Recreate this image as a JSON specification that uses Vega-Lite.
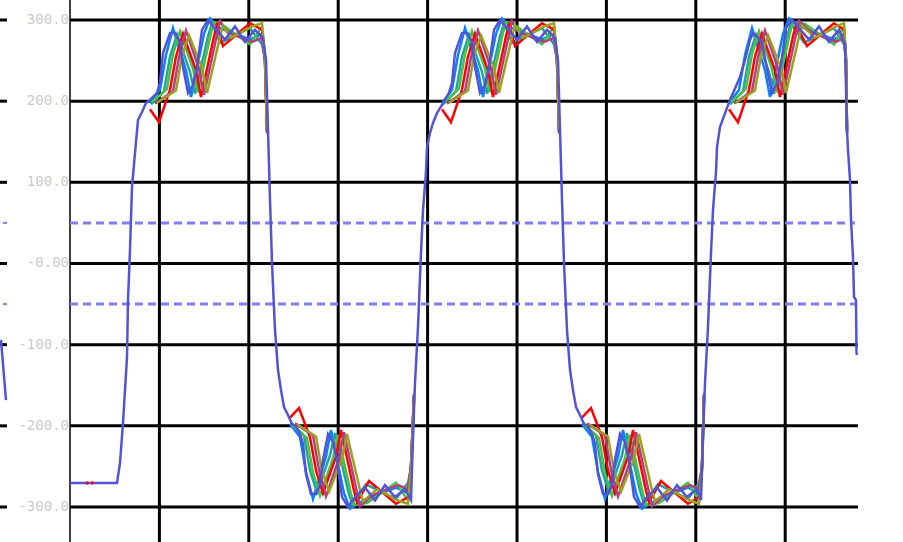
{
  "$schema": "https://vega.github.io/schema/vega-lite/v6.json",
  "width": 903,
  "height": 542,
  "padding": 0,
  "autosize": {"type": "none"},
  "background": "white",
  "config": {"view": {"stroke": null}, "axis": {"disable": true}},
  "datasets": {
    "levels": [
      {"v": 300, "lab": "300.0"},
      {"v": 200, "lab": "200.0"},
      {"v": 100, "lab": "100.0"},
      {"v": 0, "lab": "-0.00"},
      {"v": -100, "lab": "-100.0"},
      {"v": -200, "lab": "-200.0"},
      {"v": -300, "lab": "-300.0"}
    ],
    "divs": [
      {"t": 89.4}, {"t": 178.8}, {"t": 268.2}, {"t": 357.6},
      {"t": 447}, {"t": 536.4}, {"t": 625.8}, {"t": 715.2}
    ],
    "trig": [{"v": 50}, {"v": -50}],
    "traces": [
      {"s":"blue","g":"b1","t":80,"v":197.7},{"s":"blue","g":"b1","t":90,"v":213.8},{"s":"blue","g":"b1","t":96,"v":256.9},{"s":"blue","g":"b1","t":103,"v":290},{"s":"blue","g":"b1","t":116,"v":238},{"s":"blue","g":"b1","t":121,"v":205},{"s":"blue","g":"b1","t":134,"v":283},{"s":"blue","g":"b1","t":140,"v":302},{"s":"blue","g":"b1","t":150,"v":290},{"s":"blue","g":"b1","t":180,"v":276},{"s":"blue","g":"b1","t":192,"v":283},{"s":"blue","g":"b1","t":195,"v":250},{"s":"blue","g":"b1","t":197,"v":165},
      {"s":"blue","g":"b2","t":220,"v":-197.7},{"s":"blue","g":"b2","t":230,"v":-213.8},{"s":"blue","g":"b2","t":236,"v":-256.9},{"s":"blue","g":"b2","t":243,"v":-290},{"s":"blue","g":"b2","t":256,"v":-238},{"s":"blue","g":"b2","t":261,"v":-205},{"s":"blue","g":"b2","t":274,"v":-283},{"s":"blue","g":"b2","t":280,"v":-302},{"s":"blue","g":"b2","t":296,"v":-290},{"s":"blue","g":"b2","t":326,"v":-276},{"s":"blue","g":"b2","t":338,"v":-283},{"s":"blue","g":"b2","t":341,"v":-250},{"s":"blue","g":"b2","t":344,"v":-165},
      {"s":"blue","g":"b3","t":372,"v":197.7},{"s":"blue","g":"b3","t":382,"v":213.8},{"s":"blue","g":"b3","t":388,"v":256.9},{"s":"blue","g":"b3","t":395,"v":290},{"s":"blue","g":"b3","t":408,"v":238},{"s":"blue","g":"b3","t":413,"v":205},{"s":"blue","g":"b3","t":426,"v":283},{"s":"blue","g":"b3","t":432,"v":302},{"s":"blue","g":"b3","t":442,"v":290},{"s":"blue","g":"b3","t":472,"v":276},{"s":"blue","g":"b3","t":484,"v":283},{"s":"blue","g":"b3","t":487,"v":250},{"s":"blue","g":"b3","t":489,"v":165},
      {"s":"blue","g":"b4","t":512,"v":-197.7},{"s":"blue","g":"b4","t":522,"v":-213.8},{"s":"blue","g":"b4","t":528,"v":-256.9},{"s":"blue","g":"b4","t":535,"v":-290},{"s":"blue","g":"b4","t":548,"v":-238},{"s":"blue","g":"b4","t":553,"v":-205},{"s":"blue","g":"b4","t":566,"v":-283},{"s":"blue","g":"b4","t":572,"v":-302},{"s":"blue","g":"b4","t":588,"v":-290},{"s":"blue","g":"b4","t":618,"v":-276},{"s":"blue","g":"b4","t":629,"v":-283},{"s":"blue","g":"b4","t":632,"v":-250},{"s":"blue","g":"b4","t":634,"v":-165},
      {"s":"blue","g":"b5","t":659,"v":197.7},{"s":"blue","g":"b5","t":669,"v":213.8},{"s":"blue","g":"b5","t":675,"v":256.9},{"s":"blue","g":"b5","t":682,"v":290},{"s":"blue","g":"b5","t":695,"v":238},{"s":"blue","g":"b5","t":700,"v":205},{"s":"blue","g":"b5","t":713,"v":283},{"s":"blue","g":"b5","t":719,"v":302},{"s":"blue","g":"b5","t":734,"v":290},{"s":"blue","g":"b5","t":764,"v":276},{"s":"blue","g":"b5","t":774,"v":283},{"s":"blue","g":"b5","t":776,"v":250},{"s":"blue","g":"b5","t":777,"v":165},

      {"s":"teal","g":"t1","t":81,"v":196},{"s":"teal","g":"t1","t":94,"v":212},{"s":"teal","g":"t1","t":100,"v":255},{"s":"teal","g":"t1","t":107,"v":282},{"s":"teal","g":"t1","t":120,"v":236},{"s":"teal","g":"t1","t":125,"v":209},{"s":"teal","g":"t1","t":138,"v":280},{"s":"teal","g":"t1","t":142,"v":296},{"s":"teal","g":"t1","t":150,"v":272},{"s":"teal","g":"t1","t":180,"v":290},{"s":"teal","g":"t1","t":192,"v":270},{"s":"teal","g":"t1","t":195,"v":252},{"s":"teal","g":"t1","t":197,"v":160},
      {"s":"teal","g":"t2","t":221,"v":-196},{"s":"teal","g":"t2","t":234,"v":-212},{"s":"teal","g":"t2","t":240,"v":-255},{"s":"teal","g":"t2","t":247,"v":-282},{"s":"teal","g":"t2","t":260,"v":-236},{"s":"teal","g":"t2","t":265,"v":-209},{"s":"teal","g":"t2","t":278,"v":-280},{"s":"teal","g":"t2","t":282,"v":-296},{"s":"teal","g":"t2","t":296,"v":-272},{"s":"teal","g":"t2","t":326,"v":-290},{"s":"teal","g":"t2","t":338,"v":-270},{"s":"teal","g":"t2","t":341,"v":-252},{"s":"teal","g":"t2","t":344,"v":-160},
      {"s":"teal","g":"t3","t":373,"v":196},{"s":"teal","g":"t3","t":386,"v":212},{"s":"teal","g":"t3","t":392,"v":255},{"s":"teal","g":"t3","t":399,"v":282},{"s":"teal","g":"t3","t":412,"v":236},{"s":"teal","g":"t3","t":417,"v":209},{"s":"teal","g":"t3","t":430,"v":280},{"s":"teal","g":"t3","t":434,"v":296},{"s":"teal","g":"t3","t":442,"v":272},{"s":"teal","g":"t3","t":472,"v":290},{"s":"teal","g":"t3","t":484,"v":270},{"s":"teal","g":"t3","t":487,"v":252},{"s":"teal","g":"t3","t":489,"v":160},
      {"s":"teal","g":"t4","t":513,"v":-196},{"s":"teal","g":"t4","t":526,"v":-212},{"s":"teal","g":"t4","t":532,"v":-255},{"s":"teal","g":"t4","t":539,"v":-282},{"s":"teal","g":"t4","t":552,"v":-236},{"s":"teal","g":"t4","t":557,"v":-209},{"s":"teal","g":"t4","t":570,"v":-280},{"s":"teal","g":"t4","t":574,"v":-296},{"s":"teal","g":"t4","t":588,"v":-272},{"s":"teal","g":"t4","t":618,"v":-290},{"s":"teal","g":"t4","t":629,"v":-270},{"s":"teal","g":"t4","t":632,"v":-252},{"s":"teal","g":"t4","t":634,"v":-160},
      {"s":"teal","g":"t5","t":660,"v":196},{"s":"teal","g":"t5","t":673,"v":212},{"s":"teal","g":"t5","t":679,"v":255},{"s":"teal","g":"t5","t":686,"v":282},{"s":"teal","g":"t5","t":699,"v":236},{"s":"teal","g":"t5","t":704,"v":209},{"s":"teal","g":"t5","t":717,"v":280},{"s":"teal","g":"t5","t":721,"v":296},{"s":"teal","g":"t5","t":734,"v":272},{"s":"teal","g":"t5","t":764,"v":290},{"s":"teal","g":"t5","t":774,"v":270},{"s":"teal","g":"t5","t":776,"v":252},{"s":"teal","g":"t5","t":777,"v":160},

      {"s":"green","g":"g1","t":82,"v":199},{"s":"green","g":"g1","t":97,"v":215},{"s":"green","g":"g1","t":103,"v":258},{"s":"green","g":"g1","t":110,"v":286},{"s":"green","g":"g1","t":123,"v":240},{"s":"green","g":"g1","t":128,"v":211},{"s":"green","g":"g1","t":141,"v":284},{"s":"green","g":"g1","t":144,"v":297},{"s":"green","g":"g1","t":151,"v":295},{"s":"green","g":"g1","t":180,"v":270},{"s":"green","g":"g1","t":192,"v":292},{"s":"green","g":"g1","t":195,"v":255},{"s":"green","g":"g1","t":197,"v":170},
      {"s":"green","g":"g2","t":222,"v":-199},{"s":"green","g":"g2","t":237,"v":-215},{"s":"green","g":"g2","t":243,"v":-258},{"s":"green","g":"g2","t":250,"v":-286},{"s":"green","g":"g2","t":263,"v":-240},{"s":"green","g":"g2","t":268,"v":-211},{"s":"green","g":"g2","t":281,"v":-284},{"s":"green","g":"g2","t":284,"v":-297},{"s":"green","g":"g2","t":297,"v":-295},{"s":"green","g":"g2","t":326,"v":-270},{"s":"green","g":"g2","t":338,"v":-292},{"s":"green","g":"g2","t":341,"v":-255},{"s":"green","g":"g2","t":344,"v":-170},
      {"s":"green","g":"g3","t":374,"v":199},{"s":"green","g":"g3","t":389,"v":215},{"s":"green","g":"g3","t":395,"v":258},{"s":"green","g":"g3","t":402,"v":286},{"s":"green","g":"g3","t":415,"v":240},{"s":"green","g":"g3","t":420,"v":211},{"s":"green","g":"g3","t":433,"v":284},{"s":"green","g":"g3","t":436,"v":297},{"s":"green","g":"g3","t":443,"v":295},{"s":"green","g":"g3","t":472,"v":270},{"s":"green","g":"g3","t":484,"v":292},{"s":"green","g":"g3","t":487,"v":255},{"s":"green","g":"g3","t":489,"v":170},
      {"s":"green","g":"g4","t":514,"v":-199},{"s":"green","g":"g4","t":529,"v":-215},{"s":"green","g":"g4","t":535,"v":-258},{"s":"green","g":"g4","t":542,"v":-286},{"s":"green","g":"g4","t":555,"v":-240},{"s":"green","g":"g4","t":560,"v":-211},{"s":"green","g":"g4","t":573,"v":-284},{"s":"green","g":"g4","t":576,"v":-297},{"s":"green","g":"g4","t":589,"v":-295},{"s":"green","g":"g4","t":618,"v":-270},{"s":"green","g":"g4","t":629,"v":-292},{"s":"green","g":"g4","t":632,"v":-255},{"s":"green","g":"g4","t":634,"v":-170},
      {"s":"green","g":"g5","t":661,"v":199},{"s":"green","g":"g5","t":676,"v":215},{"s":"green","g":"g5","t":682,"v":258},{"s":"green","g":"g5","t":689,"v":286},{"s":"green","g":"g5","t":702,"v":240},{"s":"green","g":"g5","t":707,"v":211},{"s":"green","g":"g5","t":720,"v":284},{"s":"green","g":"g5","t":723,"v":297},{"s":"green","g":"g5","t":735,"v":295},{"s":"green","g":"g5","t":764,"v":270},{"s":"green","g":"g5","t":774,"v":292},{"s":"green","g":"g5","t":776,"v":255},{"s":"green","g":"g5","t":777,"v":170},

      {"s":"red","g":"r1","t":80,"v":190},{"s":"red","g":"r1","t":89,"v":174},{"s":"red","g":"r1","t":100,"v":214},{"s":"red","g":"r1","t":106,"v":255},{"s":"red","g":"r1","t":113,"v":283},{"s":"red","g":"r1","t":126,"v":238},{"s":"red","g":"r1","t":131,"v":205},{"s":"red","g":"r1","t":144,"v":280},{"s":"red","g":"r1","t":147,"v":294},{"s":"red","g":"r1","t":153,"v":268},{"s":"red","g":"r1","t":180,"v":296},{"s":"red","g":"r1","t":192,"v":288},{"s":"red","g":"r1","t":195,"v":248},{"s":"red","g":"r1","t":197,"v":162},
      {"s":"red","g":"r2","t":220,"v":-190},{"s":"red","g":"r2","t":229,"v":-178},{"s":"red","g":"r2","t":240,"v":-214},{"s":"red","g":"r2","t":246,"v":-255},{"s":"red","g":"r2","t":253,"v":-283},{"s":"red","g":"r2","t":266,"v":-238},{"s":"red","g":"r2","t":271,"v":-205},{"s":"red","g":"r2","t":284,"v":-280},{"s":"red","g":"r2","t":287,"v":-294},{"s":"red","g":"r2","t":299,"v":-268},{"s":"red","g":"r2","t":326,"v":-296},{"s":"red","g":"r2","t":338,"v":-288},{"s":"red","g":"r2","t":341,"v":-248},{"s":"red","g":"r2","t":344,"v":-162},
      {"s":"red","g":"r3","t":372,"v":190},{"s":"red","g":"r3","t":381,"v":174},{"s":"red","g":"r3","t":392,"v":214},{"s":"red","g":"r3","t":398,"v":255},{"s":"red","g":"r3","t":405,"v":283},{"s":"red","g":"r3","t":418,"v":238},{"s":"red","g":"r3","t":423,"v":205},{"s":"red","g":"r3","t":436,"v":280},{"s":"red","g":"r3","t":439,"v":294},{"s":"red","g":"r3","t":445,"v":268},{"s":"red","g":"r3","t":472,"v":296},{"s":"red","g":"r3","t":484,"v":288},{"s":"red","g":"r3","t":487,"v":248},{"s":"red","g":"r3","t":489,"v":162},
      {"s":"red","g":"r4","t":512,"v":-190},{"s":"red","g":"r4","t":521,"v":-178},{"s":"red","g":"r4","t":532,"v":-214},{"s":"red","g":"r4","t":538,"v":-255},{"s":"red","g":"r4","t":545,"v":-283},{"s":"red","g":"r4","t":558,"v":-238},{"s":"red","g":"r4","t":563,"v":-205},{"s":"red","g":"r4","t":576,"v":-280},{"s":"red","g":"r4","t":579,"v":-294},{"s":"red","g":"r4","t":591,"v":-268},{"s":"red","g":"r4","t":618,"v":-296},{"s":"red","g":"r4","t":629,"v":-288},{"s":"red","g":"r4","t":632,"v":-248},{"s":"red","g":"r4","t":634,"v":-162},
      {"s":"red","g":"r5","t":659,"v":190},{"s":"red","g":"r5","t":668,"v":174},{"s":"red","g":"r5","t":679,"v":214},{"s":"red","g":"r5","t":685,"v":255},{"s":"red","g":"r5","t":692,"v":283},{"s":"red","g":"r5","t":705,"v":238},{"s":"red","g":"r5","t":710,"v":205},{"s":"red","g":"r5","t":723,"v":280},{"s":"red","g":"r5","t":726,"v":294},{"s":"red","g":"r5","t":737,"v":268},{"s":"red","g":"r5","t":764,"v":296},{"s":"red","g":"r5","t":774,"v":288},{"s":"red","g":"r5","t":776,"v":248},{"s":"red","g":"r5","t":777,"v":162},

      {"s":"magenta","g":"m1","t":85,"v":197},{"s":"magenta","g":"m1","t":103,"v":212},{"s":"magenta","g":"m1","t":109,"v":254},{"s":"magenta","g":"m1","t":116,"v":287},{"s":"magenta","g":"m1","t":129,"v":240},{"s":"magenta","g":"m1","t":134,"v":208},{"s":"magenta","g":"m1","t":147,"v":282},{"s":"magenta","g":"m1","t":150,"v":299},{"s":"magenta","g":"m1","t":157,"v":285},{"s":"magenta","g":"m1","t":182,"v":273},{"s":"magenta","g":"m1","t":192,"v":278},{"s":"magenta","g":"m1","t":195,"v":250},{"s":"magenta","g":"m1","t":197,"v":163},
      {"s":"magenta","g":"m2","t":225,"v":-197},{"s":"magenta","g":"m2","t":243,"v":-212},{"s":"magenta","g":"m2","t":249,"v":-254},{"s":"magenta","g":"m2","t":256,"v":-287},{"s":"magenta","g":"m2","t":269,"v":-240},{"s":"magenta","g":"m2","t":274,"v":-208},{"s":"magenta","g":"m2","t":287,"v":-282},{"s":"magenta","g":"m2","t":290,"v":-299},{"s":"magenta","g":"m2","t":303,"v":-285},{"s":"magenta","g":"m2","t":328,"v":-273},{"s":"magenta","g":"m2","t":338,"v":-278},{"s":"magenta","g":"m2","t":341,"v":-250},{"s":"magenta","g":"m2","t":344,"v":-163},
      {"s":"magenta","g":"m3","t":377,"v":197},{"s":"magenta","g":"m3","t":395,"v":212},{"s":"magenta","g":"m3","t":401,"v":254},{"s":"magenta","g":"m3","t":408,"v":287},{"s":"magenta","g":"m3","t":421,"v":240},{"s":"magenta","g":"m3","t":426,"v":208},{"s":"magenta","g":"m3","t":439,"v":282},{"s":"magenta","g":"m3","t":442,"v":299},{"s":"magenta","g":"m3","t":449,"v":285},{"s":"magenta","g":"m3","t":474,"v":273},{"s":"magenta","g":"m3","t":484,"v":278},{"s":"magenta","g":"m3","t":487,"v":250},{"s":"magenta","g":"m3","t":489,"v":163},
      {"s":"magenta","g":"m4","t":517,"v":-197},{"s":"magenta","g":"m4","t":535,"v":-212},{"s":"magenta","g":"m4","t":541,"v":-254},{"s":"magenta","g":"m4","t":548,"v":-287},{"s":"magenta","g":"m4","t":561,"v":-240},{"s":"magenta","g":"m4","t":566,"v":-208},{"s":"magenta","g":"m4","t":579,"v":-282},{"s":"magenta","g":"m4","t":582,"v":-299},{"s":"magenta","g":"m4","t":595,"v":-285},{"s":"magenta","g":"m4","t":620,"v":-273},{"s":"magenta","g":"m4","t":629,"v":-278},{"s":"magenta","g":"m4","t":632,"v":-250},{"s":"magenta","g":"m4","t":634,"v":-163},
      {"s":"magenta","g":"m5","t":664,"v":197},{"s":"magenta","g":"m5","t":682,"v":212},{"s":"magenta","g":"m5","t":688,"v":254},{"s":"magenta","g":"m5","t":695,"v":287},{"s":"magenta","g":"m5","t":708,"v":240},{"s":"magenta","g":"m5","t":713,"v":208},{"s":"magenta","g":"m5","t":726,"v":282},{"s":"magenta","g":"m5","t":729,"v":299},{"s":"magenta","g":"m5","t":741,"v":285},{"s":"magenta","g":"m5","t":766,"v":273},{"s":"magenta","g":"m5","t":774,"v":278},{"s":"magenta","g":"m5","t":776,"v":250},{"s":"magenta","g":"m5","t":777,"v":163},

      {"s":"olive","g":"o1","t":87,"v":198},{"s":"olive","g":"o1","t":106,"v":213},{"s":"olive","g":"o1","t":112,"v":256},{"s":"olive","g":"o1","t":119,"v":281},{"s":"olive","g":"o1","t":132,"v":241},{"s":"olive","g":"o1","t":137,"v":210},{"s":"olive","g":"o1","t":150,"v":279},{"s":"olive","g":"o1","t":153,"v":293},{"s":"olive","g":"o1","t":161,"v":278},{"s":"olive","g":"o1","t":182,"v":292},{"s":"olive","g":"o1","t":192,"v":296},{"s":"olive","g":"o1","t":195,"v":254},{"s":"olive","g":"o1","t":197,"v":168},
      {"s":"olive","g":"o2","t":227,"v":-198},{"s":"olive","g":"o2","t":246,"v":-213},{"s":"olive","g":"o2","t":252,"v":-256},{"s":"olive","g":"o2","t":259,"v":-281},{"s":"olive","g":"o2","t":272,"v":-241},{"s":"olive","g":"o2","t":277,"v":-210},{"s":"olive","g":"o2","t":290,"v":-279},{"s":"olive","g":"o2","t":293,"v":-293},{"s":"olive","g":"o2","t":307,"v":-278},{"s":"olive","g":"o2","t":328,"v":-292},{"s":"olive","g":"o2","t":338,"v":-296},{"s":"olive","g":"o2","t":341,"v":-254},{"s":"olive","g":"o2","t":344,"v":-168},
      {"s":"olive","g":"o3","t":379,"v":198},{"s":"olive","g":"o3","t":398,"v":213},{"s":"olive","g":"o3","t":404,"v":256},{"s":"olive","g":"o3","t":411,"v":281},{"s":"olive","g":"o3","t":424,"v":241},{"s":"olive","g":"o3","t":429,"v":210},{"s":"olive","g":"o3","t":442,"v":279},{"s":"olive","g":"o3","t":445,"v":293},{"s":"olive","g":"o3","t":453,"v":278},{"s":"olive","g":"o3","t":474,"v":292},{"s":"olive","g":"o3","t":484,"v":296},{"s":"olive","g":"o3","t":487,"v":254},{"s":"olive","g":"o3","t":489,"v":168},
      {"s":"olive","g":"o4","t":519,"v":-198},{"s":"olive","g":"o4","t":538,"v":-213},{"s":"olive","g":"o4","t":544,"v":-256},{"s":"olive","g":"o4","t":551,"v":-281},{"s":"olive","g":"o4","t":564,"v":-241},{"s":"olive","g":"o4","t":569,"v":-210},{"s":"olive","g":"o4","t":582,"v":-279},{"s":"olive","g":"o4","t":585,"v":-293},{"s":"olive","g":"o4","t":599,"v":-278},{"s":"olive","g":"o4","t":620,"v":-292},{"s":"olive","g":"o4","t":629,"v":-296},{"s":"olive","g":"o4","t":632,"v":-254},{"s":"olive","g":"o4","t":634,"v":-168},
      {"s":"olive","g":"o5","t":666,"v":198},{"s":"olive","g":"o5","t":685,"v":213},{"s":"olive","g":"o5","t":691,"v":256},{"s":"olive","g":"o5","t":698,"v":281},{"s":"olive","g":"o5","t":711,"v":241},{"s":"olive","g":"o5","t":716,"v":210},{"s":"olive","g":"o5","t":729,"v":279},{"s":"olive","g":"o5","t":732,"v":293},{"s":"olive","g":"o5","t":745,"v":278},{"s":"olive","g":"o5","t":766,"v":292},{"s":"olive","g":"o5","t":774,"v":296},{"s":"olive","g":"o5","t":776,"v":254},{"s":"olive","g":"o5","t":777,"v":168},

      {"s":"slate","g":"w","t":-69,"v":-94.2},{"s":"slate","g":"w","t":-64,"v":-168.2},

      {"s":"slate","g":"main","t":0,"v":-270.4},{"s":"slate","g":"main","t":47,"v":-270.4},{"s":"slate","g":"main","t":50,"v":-245.8},{"s":"slate","g":"main","t":53,"v":-196.5},{"s":"slate","g":"main","t":57,"v":-115.3},{"s":"slate","g":"main","t":58,"v":-45},{"s":"slate","g":"main","t":60,"v":16.6},{"s":"slate","g":"main","t":62,"v":94.2},{"s":"slate","g":"main","t":65,"v":136.1},{"s":"slate","g":"main","t":68,"v":176.8},{"s":"slate","g":"main","t":72,"v":186.6},{"s":"slate","g":"main","t":76,"v":197.7},{"s":"slate","g":"main","t":80,"v":201.5},{"s":"slate","g":"main","t":87,"v":210.1},{"s":"slate","g":"main","t":90,"v":222.4},{"s":"slate","g":"main","t":93,"v":259.3},{"s":"slate","g":"main","t":100,"v":284},{"s":"slate","g":"main","t":105,"v":284},{"s":"slate","g":"main","t":110,"v":273},{"s":"slate","g":"main","t":113,"v":242.1},{"s":"slate","g":"main","t":118,"v":210.1},{"s":"slate","g":"main","t":123,"v":219.9},{"s":"slate","g":"main","t":127,"v":242.1},{"s":"slate","g":"main","t":132,"v":287.7},{"s":"slate","g":"main","t":138,"v":300},{"s":"slate","g":"main","t":145,"v":290},{"s":"slate","g":"main","t":155,"v":276},{"s":"slate","g":"main","t":165,"v":292},{"s":"slate","g":"main","t":175,"v":273},{"s":"slate","g":"main","t":185,"v":287.7},{"s":"slate","g":"main","t":193,"v":278},
      {"s":"slate","g":"main","t":196,"v":250.7},{"s":"slate","g":"main","t":198,"v":164.5},{"s":"slate","g":"main","t":200,"v":78.2},{"s":"slate","g":"main","t":202,"v":0.6},{"s":"slate","g":"main","t":205,"v":-82},{"s":"slate","g":"main","t":208,"v":-131.2},{"s":"slate","g":"main","t":211,"v":-155.8},{"s":"slate","g":"main","t":214,"v":-176.8},{"s":"slate","g":"main","t":218,"v":-186.6},{"s":"slate","g":"main","t":222,"v":-197.7},{"s":"slate","g":"main","t":226,"v":-201.5},{"s":"slate","g":"main","t":230,"v":-210.1},{"s":"slate","g":"main","t":233,"v":-222.4},{"s":"slate","g":"main","t":236,"v":-259.3},{"s":"slate","g":"main","t":241,"v":-284},{"s":"slate","g":"main","t":246,"v":-284},{"s":"slate","g":"main","t":250,"v":-273},{"s":"slate","g":"main","t":253,"v":-242.1},{"s":"slate","g":"main","t":258,"v":-210.1},{"s":"slate","g":"main","t":263,"v":-219.9},{"s":"slate","g":"main","t":267,"v":-242.1},{"s":"slate","g":"main","t":272,"v":-287.6},{"s":"slate","g":"main","t":278,"v":-300},{"s":"slate","g":"main","t":285,"v":-287.6},{"s":"slate","g":"main","t":295,"v":-276},{"s":"slate","g":"main","t":305,"v":-292},{"s":"slate","g":"main","t":315,"v":-273},{"s":"slate","g":"main","t":325,"v":-287.6},{"s":"slate","g":"main","t":335,"v":-278},{"s":"slate","g":"main","t":339,"v":-287},
      {"s":"slate","g":"main","t":341,"v":-291.3},{"s":"slate","g":"main","t":343,"v":-213.8},{"s":"slate","g":"main","t":345,"v":-147.2},{"s":"slate","g":"main","t":348,"v":-78.2},{"s":"slate","g":"main","t":351,"v":12.9},{"s":"slate","g":"main","t":353,"v":65.9},{"s":"slate","g":"main","t":356,"v":112.7},{"s":"slate","g":"main","t":357,"v":143.4},{"s":"slate","g":"main","t":360,"v":160.8},{"s":"slate","g":"main","t":363,"v":173.1},{"s":"slate","g":"main","t":367,"v":185.4},{"s":"slate","g":"main","t":372,"v":195.3},{"s":"slate","g":"main","t":379,"v":210.1},{"s":"slate","g":"main","t":382,"v":222.4},{"s":"slate","g":"main","t":385,"v":259.3},{"s":"slate","g":"main","t":392,"v":284},{"s":"slate","g":"main","t":397,"v":284},{"s":"slate","g":"main","t":402,"v":273},{"s":"slate","g":"main","t":405,"v":242.1},{"s":"slate","g":"main","t":410,"v":210.1},{"s":"slate","g":"main","t":415,"v":219.9},{"s":"slate","g":"main","t":419,"v":242.1},{"s":"slate","g":"main","t":424,"v":287.7},{"s":"slate","g":"main","t":430,"v":300},{"s":"slate","g":"main","t":437,"v":290},{"s":"slate","g":"main","t":447,"v":276},{"s":"slate","g":"main","t":457,"v":292},{"s":"slate","g":"main","t":467,"v":273},{"s":"slate","g":"main","t":477,"v":287.7},{"s":"slate","g":"main","t":485,"v":278},
      {"s":"slate","g":"main","t":488,"v":250.7},{"s":"slate","g":"main","t":490,"v":164.5},{"s":"slate","g":"main","t":492,"v":78.2},{"s":"slate","g":"main","t":494,"v":0.6},{"s":"slate","g":"main","t":497,"v":-82},{"s":"slate","g":"main","t":500,"v":-131.2},{"s":"slate","g":"main","t":503,"v":-155.8},{"s":"slate","g":"main","t":506,"v":-176.8},{"s":"slate","g":"main","t":510,"v":-186.6},{"s":"slate","g":"main","t":514,"v":-197.7},{"s":"slate","g":"main","t":518,"v":-201.5},{"s":"slate","g":"main","t":522,"v":-210.1},{"s":"slate","g":"main","t":525,"v":-222.4},{"s":"slate","g":"main","t":528,"v":-259.3},{"s":"slate","g":"main","t":533,"v":-284},{"s":"slate","g":"main","t":538,"v":-284},{"s":"slate","g":"main","t":542,"v":-273},{"s":"slate","g":"main","t":545,"v":-242.1},{"s":"slate","g":"main","t":550,"v":-210.1},{"s":"slate","g":"main","t":555,"v":-219.9},{"s":"slate","g":"main","t":559,"v":-242.1},{"s":"slate","g":"main","t":564,"v":-287.6},{"s":"slate","g":"main","t":570,"v":-300},{"s":"slate","g":"main","t":577,"v":-287.6},{"s":"slate","g":"main","t":587,"v":-276},{"s":"slate","g":"main","t":597,"v":-292},{"s":"slate","g":"main","t":607,"v":-273},{"s":"slate","g":"main","t":617,"v":-287.6},{"s":"slate","g":"main","t":627,"v":-278},
      {"s":"slate","g":"main","t":631,"v":-291.3},{"s":"slate","g":"main","t":633,"v":-213.8},{"s":"slate","g":"main","t":635,"v":-147.2},{"s":"slate","g":"main","t":638,"v":-78.2},{"s":"slate","g":"main","t":641,"v":12.9},{"s":"slate","g":"main","t":643,"v":65.9},{"s":"slate","g":"main","t":646,"v":112.7},{"s":"slate","g":"main","t":647,"v":143.4},{"s":"slate","g":"main","t":650,"v":168},{"s":"slate","g":"main","t":655,"v":185},{"s":"slate","g":"main","t":660,"v":201.5},{"s":"slate","g":"main","t":670,"v":229.8},{"s":"slate","g":"main","t":675,"v":250.7},{"s":"slate","g":"main","t":680,"v":275.4},{"s":"slate","g":"main","t":683,"v":284},{"s":"slate","g":"main","t":688,"v":279},{"s":"slate","g":"main","t":692,"v":271.7},{"s":"slate","g":"main","t":697,"v":240},{"s":"slate","g":"main","t":702,"v":210},{"s":"slate","g":"main","t":707,"v":222},{"s":"slate","g":"main","t":711,"v":245},{"s":"slate","g":"main","t":716,"v":290},{"s":"slate","g":"main","t":722,"v":300},{"s":"slate","g":"main","t":729,"v":290},{"s":"slate","g":"main","t":739,"v":276},{"s":"slate","g":"main","t":749,"v":292},{"s":"slate","g":"main","t":759,"v":273},{"s":"slate","g":"main","t":769,"v":288},{"s":"slate","g":"main","t":775,"v":270},
      {"s":"slate","g":"main","t":776,"v":217.5},{"s":"slate","g":"main","t":777,"v":164.5},{"s":"slate","g":"main","t":778,"v":139.8},{"s":"slate","g":"main","t":780,"v":102.9},{"s":"slate","g":"main","t":781,"v":53.6},{"s":"slate","g":"main","t":783,"v":8},{"s":"slate","g":"main","t":784,"v":-41.3},{"s":"slate","g":"main","t":786,"v":-45},{"s":"slate","g":"main","t":786.5,"v":-110.3},{"s":"slate","g":"main","t":787,"v":-112.7},

      {"s":"mark","g":"r0a","t":16,"v":-270.4},{"s":"mark","g":"r0a","t":18.5,"v":-270.4},
      {"s":"mark","g":"r0b","t":21,"v":-270.4},{"s":"mark","g":"r0b","t":23.5,"v":-270.4}
    ]
  },
  "layer": [
    {
      "data": {"name": "divs"},
      "mark": {"type": "rule", "color": "black", "strokeWidth": 3},
      "encoding": {
        "x": {"field": "t", "type": "quantitative", "scale": {"domain": [-70, 833], "nice": false, "zero": false}, "axis": null}
      }
    },
    {
      "data": {"name": "trig"},
      "mark": {"type": "rule", "color": "black", "strokeWidth": 1},
      "encoding": {
        "x": {"datum": 0, "type": "quantitative", "scale": {"domain": [-70, 833], "nice": false, "zero": false}, "axis": null}
      }
    },
    {
      "data": {"name": "levels"},
      "mark": {"type": "rule", "color": "black", "strokeWidth": 3},
      "encoding": {
        "x": {"datum": 0, "type": "quantitative", "scale": {"domain": [-70, 833], "nice": false, "zero": false}, "axis": null},
        "x2": {"datum": 788},
        "y": {"field": "v", "type": "quantitative", "scale": {"domain": [-343.1, 324.6], "nice": false, "zero": false}, "axis": null}
      }
    },
    {
      "data": {"name": "levels"},
      "mark": {"type": "rule", "color": "black", "strokeWidth": 3},
      "encoding": {
        "x": {"datum": -70, "type": "quantitative", "scale": {"domain": [-70, 833], "nice": false, "zero": false}, "axis": null},
        "x2": {"datum": -63},
        "y": {"field": "v", "type": "quantitative", "scale": {"domain": [-343.1, 324.6], "nice": false, "zero": false}, "axis": null}
      }
    },
    {
      "data": {"name": "levels"},
      "mark": {"type": "text", "align": "right", "baseline": "middle", "font": "DejaVu Sans Mono", "fontSize": 14, "color": "#cbcbcb", "dx": -1},
      "encoding": {
        "x": {"datum": 0, "type": "quantitative", "scale": {"domain": [-70, 833], "nice": false, "zero": false}, "axis": null},
        "y": {"field": "v", "type": "quantitative", "scale": {"domain": [-343.1, 324.6], "nice": false, "zero": false}, "axis": null},
        "text": {"field": "lab"}
      }
    },
    {
      "data": {"name": "trig"},
      "mark": {"type": "rule", "color": "#7f7ff2", "strokeWidth": 3, "strokeDash": [8, 5]},
      "encoding": {
        "x": {"datum": 0, "type": "quantitative", "scale": {"domain": [-70, 833], "nice": false, "zero": false}, "axis": null},
        "x2": {"datum": 785},
        "y": {"field": "v", "type": "quantitative", "scale": {"domain": [-343.1, 324.6], "nice": false, "zero": false}, "axis": null}
      }
    },
    {
      "data": {"name": "trig"},
      "mark": {"type": "rule", "color": "#7f7ff2", "strokeWidth": 2},
      "encoding": {
        "x": {"datum": -67, "type": "quantitative", "scale": {"domain": [-70, 833], "nice": false, "zero": false}, "axis": null},
        "x2": {"datum": -63},
        "y": {"field": "v", "type": "quantitative", "scale": {"domain": [-343.1, 324.6], "nice": false, "zero": false}, "axis": null}
      }
    },
    {
      "data": {"name": "traces"},
      "transform": [{"filter": "datum.s !== 'slate' && datum.s !== 'mark'"}],
      "mark": {"type": "line", "strokeWidth": 2.5, "strokeCap": "butt"},
      "encoding": {
        "x": {"field": "t", "type": "quantitative", "scale": {"domain": [-70, 833], "nice": false, "zero": false}, "axis": null},
        "y": {"field": "v", "type": "quantitative", "scale": {"domain": [-343.1, 324.6], "nice": false, "zero": false}, "axis": null},
        "color": {"field": "s", "type": "nominal", "legend": null,
          "scale": {"domain": ["blue", "teal", "green", "red", "magenta", "olive", "slate"],
                    "range": ["#0a80ff", "#22a3a3", "#44c444", "#ff0000", "#b0407f", "#a0a020", "#5353d6"]}},
        "detail": {"field": "g"},
        "order": {"field": "t", "type": "quantitative"}
      }
    },
    {
      "data": {"name": "traces"},
      "transform": [{"filter": "datum.s === 'slate'"}],
      "mark": {"type": "line", "strokeWidth": 2.5, "strokeCap": "butt", "color": "#5353d6"},
      "encoding": {
        "x": {"field": "t", "type": "quantitative", "scale": {"domain": [-70, 833], "nice": false, "zero": false}, "axis": null},
        "y": {"field": "v", "type": "quantitative", "scale": {"domain": [-343.1, 324.6], "nice": false, "zero": false}, "axis": null},
        "detail": {"field": "g"},
        "order": {"field": "t", "type": "quantitative"}
      }
    },
    {
      "data": {"name": "traces"},
      "transform": [{"filter": "datum.s === 'mark'"}],
      "mark": {"type": "line", "strokeWidth": 3, "strokeCap": "butt", "color": "#ff0000"},
      "encoding": {
        "x": {"field": "t", "type": "quantitative", "scale": {"domain": [-70, 833], "nice": false, "zero": false}, "axis": null},
        "y": {"field": "v", "type": "quantitative", "scale": {"domain": [-343.1, 324.6], "nice": false, "zero": false}, "axis": null},
        "detail": {"field": "g"},
        "order": {"field": "t", "type": "quantitative"}
      }
    }
  ]
}
